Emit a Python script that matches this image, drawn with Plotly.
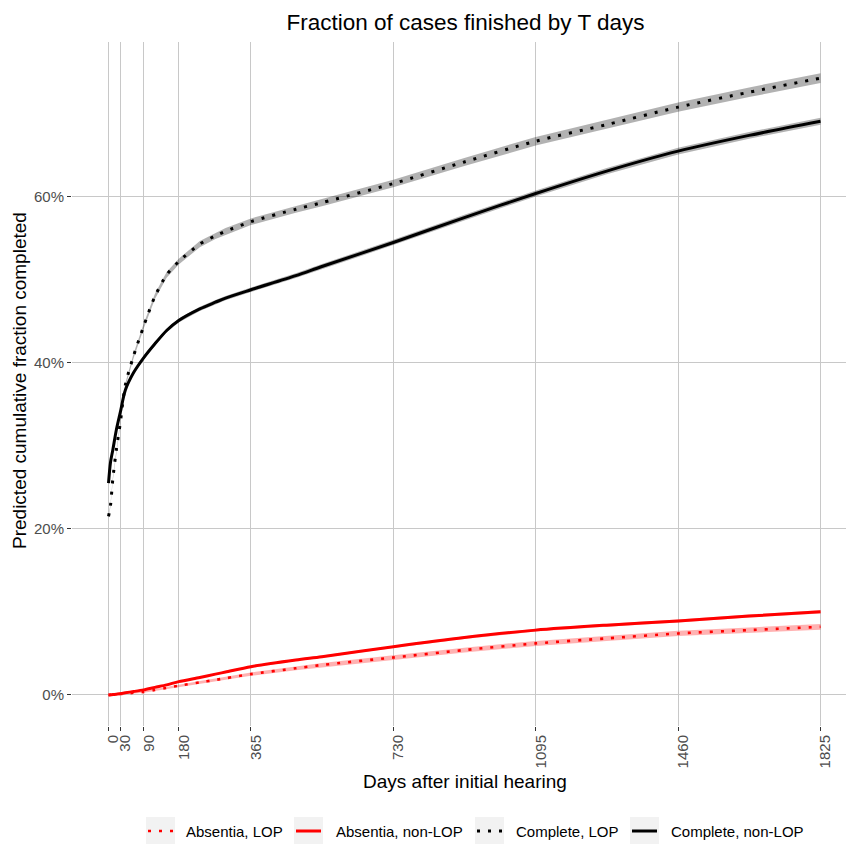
import plotly.graph_objects as go

# ---- data (percent) ----
days = [0, 5, 11, 20, 30, 43, 64, 90, 119, 149, 180, 234, 274, 300, 365,
        480, 547, 730, 912, 1095, 1277, 1460, 1642, 1825]

absentia_lop = [0.0, 0.0, 0.02, 0.05, 0.1, 0.15, 0.25, 0.35, 0.6, 0.85, 1.1, 1.5,
                1.8, 2.0, 2.5, 3.2, 3.6, 4.5, 5.4, 6.2, 6.8, 7.4, 7.8, 8.2]
absentia_lop_ci = [0.02, 0.02, 0.03, 0.04, 0.05, 0.06, 0.07, 0.08, 0.1, 0.12, 0.14, 0.16,
                   0.18, 0.19, 0.2, 0.23, 0.24, 0.27, 0.29, 0.3, 0.31, 0.32, 0.33, 0.34]

absentia_nonlop = [0.0, 0.0, 0.04, 0.08, 0.15, 0.25, 0.4, 0.6, 0.9, 1.2, 1.6, 2.1,
                   2.5, 2.75, 3.4, 4.2, 4.6, 5.8, 6.9, 7.8, 8.4, 8.9, 9.5, 10.0]
absentia_nonlop_ci = [0.02, 0.02, 0.03, 0.03, 0.04, 0.04, 0.05, 0.06, 0.07, 0.08, 0.09, 0.1,
                      0.11, 0.11, 0.12, 0.13, 0.14, 0.15, 0.16, 0.17, 0.18, 0.18, 0.19, 0.2]

complete_lop = [21.5, 22.8, 26.0, 29.5, 32.7, 37.3, 40.8, 44.4, 48.0, 50.6, 52.2, 54.3,
                55.3, 55.85, 57.0, 58.5, 59.3, 61.6, 64.2, 66.7, 68.7, 70.8, 72.6, 74.3]
complete_lop_ci = [0.15, 0.15, 0.18, 0.2, 0.22, 0.25, 0.28, 0.3, 0.32, 0.34, 0.35, 0.37,
                   0.38, 0.39, 0.4, 0.42, 0.43, 0.46, 0.49, 0.52, 0.54, 0.56, 0.58, 0.6]

complete_nonlop = [25.5, 28.0, 29.5, 31.9, 34.0, 36.7, 38.8, 40.6, 42.3, 43.9, 45.1, 46.5,
                   47.3, 47.8, 48.8, 50.5, 51.6, 54.5, 57.5, 60.4, 63.1, 65.5, 67.4, 69.1]
complete_nonlop_ci = [0.15, 0.15, 0.16, 0.17, 0.18, 0.19, 0.2, 0.21, 0.22, 0.23, 0.24, 0.25,
                      0.26, 0.26, 0.27, 0.29, 0.3, 0.32, 0.34, 0.36, 0.38, 0.4, 0.41, 0.42]

x_ticks = [0, 30, 90, 180, 365, 730, 1095, 1460, 1825]
x_ticktext = ["0", "30", "90", "180", "365", "730", "1095", "1460", "1825"]
y_ticks = [0, 20, 40, 60]
y_ticktext = ["0%", "20%", "40%", "60%"]

series_names = ["Absentia, LOP", "Absentia, non-LOP", "Complete, LOP", "Complete, non-LOP"]
series_vals = [absentia_lop, absentia_nonlop, complete_lop, complete_nonlop]
series_ci = [absentia_lop_ci, absentia_nonlop_ci, complete_lop_ci, complete_nonlop_ci]

# ---- styles ----
line_colors = ["#ff0000", "#ff0000", "#000000", "#000000"]
fill_colors = ["rgba(255,0,0,0.3)", "rgba(255,0,0,0.3)", "rgba(0,0,0,0.3)", "rgba(0,0,0,0.3)"]
dashes = ["3px,8px", "solid", "3px,8px", "solid"]
widths = [2.6, 3, 3, 3]

W, H = 846, 844
L, R, T, B = 72, 0, 42, 118
PW, PH = W - L - R, H - T - B


def px_x(px):
    return (px - L) / PW


def px_y(py):
    return (H - B - py) / PH


fig = go.Figure()

# ribbons
for vals, ci, fc in zip(series_vals, series_ci, fill_colors):
    upper = [v + c for v, c in zip(vals, ci)]
    lower = [max(v - c, 0) for v, c in zip(vals, ci)]
    fig.add_trace(go.Scatter(
        x=days + days[::-1], y=upper + lower[::-1],
        fill="toself", fillcolor=fc, line=dict(width=0),
        mode="lines", hoverinfo="skip", showlegend=False))

# lines
for name, vals, col, dash, w in zip(series_names, series_vals, line_colors, dashes, widths):
    fig.add_trace(go.Scatter(
        x=days, y=vals, mode="lines", name=name, showlegend=False,
        line=dict(color=col, width=w, dash=dash, shape="spline", smoothing=0.8)))

# ---- manual legend (ggplot style keys) ----
key_left = [146, 294, 475, 630]
text_left = [184, 334, 514, 669]
key_w, key_top, key_bot, key_mid = 29, 817, 844, 831
shapes = []
annotations = []
for kl, tl, name, col, dash, w in zip(key_left, text_left, series_names, line_colors, dashes, widths):
    shapes.append(dict(type="rect", xref="paper", yref="paper",
                       x0=px_x(kl), x1=px_x(kl + key_w), y0=px_y(key_bot), y1=px_y(key_top),
                       fillcolor="#f2f2f2", line=dict(width=0), layer="below"))
    shapes.append(dict(type="line", xref="paper", yref="paper",
                       x0=px_x(kl + 2), x1=px_x(kl + key_w - 2), y0=px_y(key_mid), y1=px_y(key_mid),
                       line=dict(color=col, width=w, dash=dash)))
    annotations.append(dict(text=name, xref="paper", yref="paper", x=px_x(tl), y=px_y(key_mid),
                            xanchor="left", yanchor="middle", showarrow=False,
                            font=dict(size=15, color="#000000")))

# axis titles
annotations.append(dict(text="Days after initial hearing", xref="paper", yref="paper",
                        x=px_x(464.5), y=px_y(781), xanchor="center", yanchor="middle",
                        showarrow=False, font=dict(size=19, color="#000000")))
annotations.append(dict(text="Predicted cumulative fraction completed", xref="paper", yref="paper",
                        x=px_x(19), y=px_y(381), xanchor="center", yanchor="middle",
                        textangle=-90, showarrow=False, font=dict(size=19, color="#000000")))

fig.update_layout(
    width=W, height=H,
    margin=dict(l=L, r=R, t=T, b=B),
    paper_bgcolor="white", plot_bgcolor="white",
    font=dict(family="Liberation Sans, Arial, sans-serif", color="#000000"),
    title=dict(text="Fraction of cases finished by T days", x=465.5 / W, xref="container",
               xanchor="center", y=1 - 22 / H, yref="container", yanchor="middle",
               font=dict(size=22.5, color="#000000")),
    xaxis=dict(
        range=[-93.6, 1890.3], tickmode="array", tickvals=x_ticks, ticktext=x_ticktext,
        tickangle=-90, showgrid=True, gridcolor="#c8c8c8", gridwidth=1.4,
        zeroline=False, showline=False, ticks="outside", ticklen=4, tickwidth=1.3,
        tickcolor="#333333", tickfont=dict(size=15, color="#4d4d4d"), automargin=False,
        ticklabelshift=5, ticklabelstandoff=-2),
    yaxis=dict(
        range=[-3.75, 78.65], tickmode="array", tickvals=y_ticks, ticktext=y_ticktext,
        showgrid=True, gridcolor="#c8c8c8", gridwidth=1.4, zeroline=False, showline=False,
        ticks="outside", ticklen=4, tickwidth=1.3, tickcolor="#333333",
        tickfont=dict(size=15, color="#4d4d4d"), automargin=False),
    shapes=shapes,
    annotations=annotations,
    showlegend=False,
)

fig.write_html("out.html", config={"displayModeBar": False},
               post_script="document.body.style.margin='0';document.body.style.padding='0';")
